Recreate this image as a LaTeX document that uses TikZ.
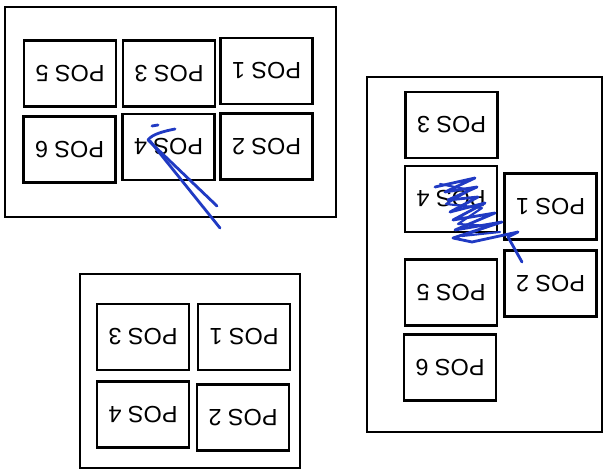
\documentclass[tikz,border=0pt]{standalone}
\usepackage{fontspec}
\setmainfont{Liberation Sans}
\definecolor{pen}{RGB}{32,58,195}

\begin{document}
\begin{tikzpicture}[
  x=0.03cm,y=-0.03cm,
  panel/.style={draw,line width=1.3pt},
  posbox/.style={draw,line width=2pt,rotate=180,minimum width=2.76cm,minimum height=1.98cm,
    inner sep=0pt,font=\fontsize{20}{22}\selectfont},
  scrawl/.style={pen,line width=2.4pt,line cap=round,line join=round}
]
  \useasboundingbox (0,0) rectangle (604,472);

  % top left tray
  \draw[panel] (5,7) rectangle (336,217);
  \node[posbox] (a5) at (70,73.5) {POS 5};
  \node[posbox] (a3) at (169,73.5) {POS 3};
  \node[posbox] (a1) at (266.5,71) {POS 1};
  \node[posbox] (a6) at (69.5,149.5) {POS 6};
  \node[posbox] (a4) at (168.5,147) {POS 4};
  \node[posbox] (a2) at (266.5,146.5) {POS 2};

  % right tray
  \draw[panel] (367,77) rectangle (602,432);
  \node[posbox] (b3) at (451.5,125) {POS 3};
  \node[posbox] (b4) at (451,199) {POS 4};
  \node[posbox] (b1) at (550.5,206.5) {POS 1};
  \node[posbox] (b2) at (550.5,283.5) {POS 2};
  \node[posbox] (b5) at (451,292.5) {POS 5};
  \node[posbox] (b6) at (450,367.5) {POS 6};

  % bottom tray
  \draw[panel] (80,274) rectangle (300,468);
  \node[posbox] (c3) at (143,337) {POS 3};
  \node[posbox] (c1) at (244,337) {POS 1};
  \node[posbox] (c4) at (143,414.5) {POS 4};
  \node[posbox] (c2) at (243,417.5) {POS 2};

  % pen marks
  \draw[scrawl] (152,126) -- (158,125);
  \draw[scrawl] (175,129) .. controls (165,131) and (152,134) .. (148,140) -- (217,206);
  \draw[scrawl] (150,141) -- (220,228);
  \draw[scrawl] (435,187) -- (475,178) -- (445,192) -- (477,187) -- (448,200) -- (478,197)
    -- (450,212) -- (485,203) -- (453,220) -- (495,213) -- (455,230) -- (502,222)
    -- (453,238) -- (472,242) -- (518,232) -- (508,237) -- (522,262);
  \draw[scrawl,line width=1.8pt] (440,184) -- (470,190) -- (446,204) -- (482,208) -- (458,224)
    -- (490,226) -- (462,236) -- (500,232);
\end{tikzpicture}
\end{document}
